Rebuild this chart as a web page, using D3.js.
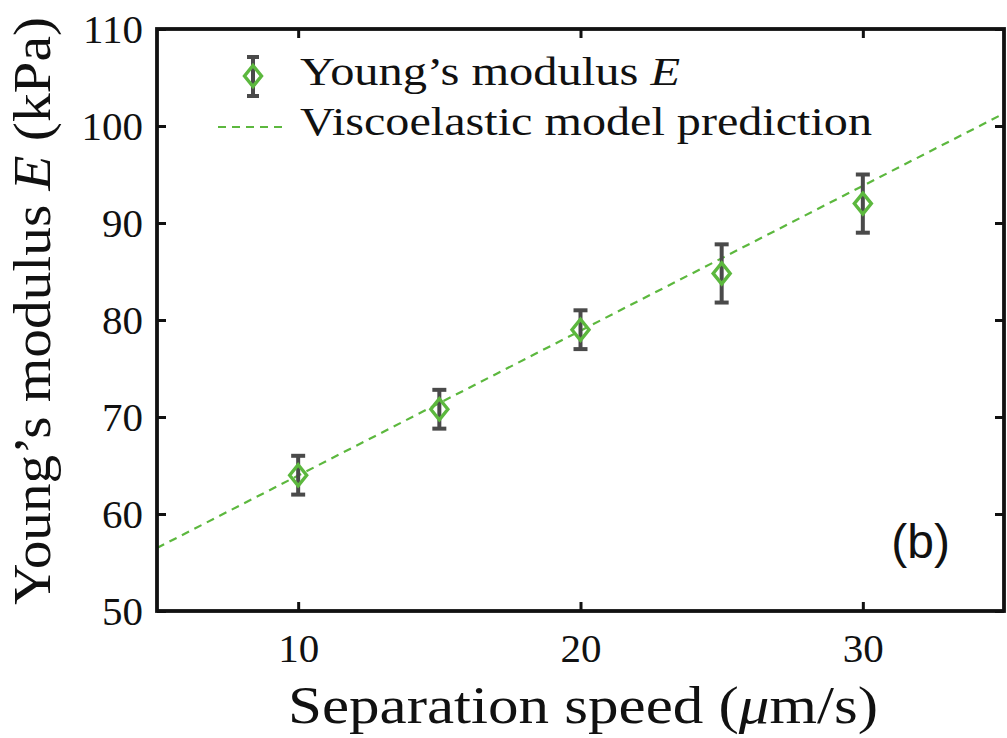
<!DOCTYPE html>
<html>
<head>
<meta charset="utf-8">
<script src="https://cdn.jsdelivr.net/npm/d3@7"></script>
<style>
  body { margin: 0; background: #fff; }
  svg { display: block; }
</style>
</head>
<body>
<svg id="chart" width="1007" height="738"></svg>
<script>
// Data
const speeds = [10, 15, 20, 25, 30];
const modulus = [64, 70.8, 79, 84.8, 92];
const modulusErr = [2, 2, 2, 3, 3];
const modelSpeeds = [5, 35];
const modelModulus = [56.5, 101.3];
const xTicks = [10, 20, 30];
const yTicks = [50, 60, 70, 80, 90, 100, 110];

const margin = { top: 29, right: 3, bottom: 127, left: 157 };
const width = 1007 - margin.left - margin.right;
const height = 738 - margin.top - margin.bottom;

const green = "#5cb83e";
const barColor = "#4a4a4a";
const serif = "'Liberation Serif', 'DejaVu Serif', serif";

const svg = d3.select("#chart");
const g = svg.append("g")
  .attr("transform", `translate(${ margin.left }, ${ margin.top })`);

// Scales
const x = d3.scaleLinear().domain([5, 35]).range([0, width]);
const y = d3.scaleLinear().domain([50, 110]).range([height, 0]);

// Model line
g.append("path")
  .datum(d3.zip(modelSpeeds, modelModulus))
  .attr("d", d3.line().x(d => x(d[0])).y(d => y(d[1])))
  .attr("fill", "none")
  .attr("stroke", green)
  .attr("stroke-width", 2.2)
  .attr("stroke-dasharray", "8,6");

// Error bars
const pts = speeds.map((s, i) => ({ s, e: modulus[i], err: modulusErr[i] }));
const bars = g.selectAll(".err").data(pts).enter().append("g")
  .attr("stroke", barColor)
  .attr("stroke-width", 4);
bars.append("line")
  .attr("x1", d => x(d.s)).attr("x2", d => x(d.s))
  .attr("y1", d => y(d.e - d.err)).attr("y2", d => y(d.e + d.err));
bars.append("line")
  .attr("x1", d => x(d.s) - 7).attr("x2", d => x(d.s) + 7)
  .attr("y1", d => y(d.e + d.err)).attr("y2", d => y(d.e + d.err));
bars.append("line")
  .attr("x1", d => x(d.s) - 7).attr("x2", d => x(d.s) + 7)
  .attr("y1", d => y(d.e - d.err)).attr("y2", d => y(d.e - d.err));

// Diamond markers
const diamond = "M0,-10.5L8.5,0L0,10.5L-8.5,0Z";
g.selectAll(".pt").data(pts).enter().append("path")
  .attr("d", diamond)
  .attr("transform", d => `translate(${ x(d.s) }, ${ y(d.e) })`)
  .attr("fill", "none")
  .attr("stroke", green)
  .attr("stroke-width", 3.4);

// Axes (inward ticks, mirrored on top and right)
function styleAxis(sel) {
  sel.select(".domain").remove();
  sel.selectAll(".tick line").attr("stroke", "#111").attr("stroke-width", 3);
  sel.selectAll(".tick text").attr("font-family", serif).attr("font-size", 41).attr("fill", "#111");
}
g.append("g").attr("transform", `translate(0, ${ height })`)
  .call(d3.axisBottom(x).tickValues(xTicks).tickSizeInner(-9).tickPadding(22))
  .call(styleAxis);
g.append("g")
  .call(d3.axisTop(x).tickValues(xTicks).tickSizeInner(-9).tickFormat(""))
  .call(styleAxis);
g.append("g")
  .call(d3.axisLeft(y).tickValues(yTicks).tickSizeInner(-9).tickPadding(14))
  .call(styleAxis);
g.append("g").attr("transform", `translate(${ width }, 0)`)
  .call(d3.axisRight(y).tickValues(yTicks).tickSizeInner(-9).tickFormat(""))
  .call(styleAxis);

// Frame
g.append("rect")
  .attr("width", width).attr("height", height)
  .attr("fill", "none")
  .attr("stroke", "#111")
  .attr("stroke-width", 3.8);

// Axis labels
const xLabel = g.append("text")
  .attr("x", 288 - margin.left)
  .attr("y", height + 112)
  .attr("textLength", 590)
  .attr("lengthAdjust", "spacingAndGlyphs")
  .attr("font-family", serif)
  .attr("font-size", 52)
  .attr("fill", "#111");
xLabel.append("tspan").text("Separation speed (");
xLabel.append("tspan").attr("font-style", "italic").text("μ");
xLabel.append("tspan").text("m/s)");

const yLabel = g.append("text")
  .attr("transform", "rotate(-90)")
  .attr("x", -(605 - margin.top))
  .attr("y", 50 - margin.left)
  .attr("textLength", 588)
  .attr("lengthAdjust", "spacingAndGlyphs")
  .attr("font-family", serif)
  .attr("font-size", 52)
  .attr("fill", "#111");
yLabel.append("tspan").text("Young’s modulus ");
yLabel.append("tspan").attr("font-style", "italic").text("E");
yLabel.append("tspan").text(" (kPa)");

// Legend
const legend = g.append("g").attr("transform", `translate(${ 253 - margin.left }, ${ 76 - margin.top })`);
const lg1 = legend.append("g").attr("stroke", barColor).attr("stroke-width", 4);
lg1.append("line").attr("x1", 0).attr("x2", 0).attr("y1", -19).attr("y2", 20);
lg1.append("line").attr("x1", -6).attr("x2", 6).attr("y1", -19).attr("y2", -19);
lg1.append("line").attr("x1", -6).attr("x2", 6).attr("y1", 20).attr("y2", 20);
legend.append("path").attr("d", diamond)
  .attr("fill", "none").attr("stroke", green).attr("stroke-width", 3.4);
const t1 = legend.append("text")
  .attr("x", 47).attr("y", 9)
  .attr("textLength", 380)
  .attr("lengthAdjust", "spacingAndGlyphs")
  .attr("font-family", serif).attr("font-size", 41).attr("fill", "#111");
t1.append("tspan").text("Young’s modulus ");
t1.append("tspan").attr("font-style", "italic").text("E");

legend.append("line")
  .attr("x1", -35).attr("x2", 35).attr("y1", 51).attr("y2", 51)
  .attr("stroke", green).attr("stroke-width", 2.2).attr("stroke-dasharray", "8,6");
legend.append("text")
  .attr("x", 47).attr("y", 59)
  .attr("textLength", 572)
  .attr("lengthAdjust", "spacingAndGlyphs")
  .attr("font-family", serif).attr("font-size", 41).attr("fill", "#111")
  .text("Viscoelastic model prediction");

// Panel tag
g.append("text")
  .attr("x", 950 - margin.left)
  .attr("y", 558 - margin.top)
  .attr("text-anchor", "end")
  .attr("font-family", "'Liberation Sans', Arial, sans-serif")
  .attr("font-size", 48)
  .attr("fill", "#111")
  .text("(b)");
</script>
</body>
</html>
